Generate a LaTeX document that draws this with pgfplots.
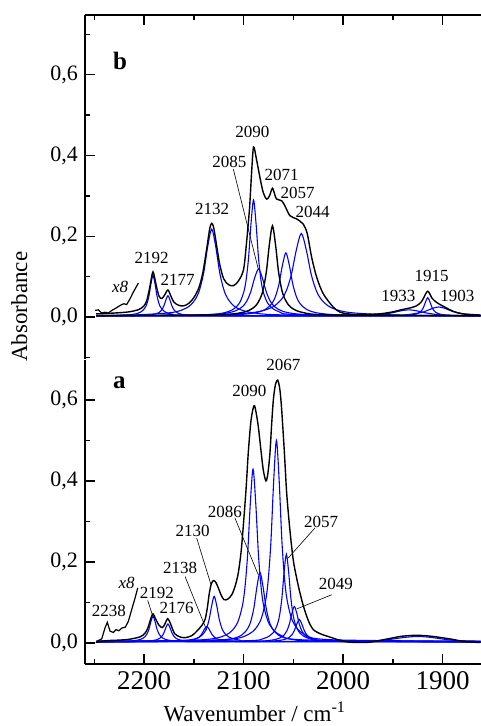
\documentclass[border=0pt]{standalone}
\usepackage{pgfplots}
\pgfplotsset{compat=1.18}
\usepackage{fontspec}
\setmainfont{Liberation Serif}

\pgfplotsset{
  spec/.style={
    scale only axis, width=396bp, clip=false,
    x dir=reverse, xmin=1861.5, xmax=2259.3,
    tick align=inside,
    major tick length=10bp, minor tick length=5bp,
    tick style={black, line width=1.4bp},
    axis line style={line width=1.8bp},
    xtick={1900,2000,2100,2200}, minor xtick={1950,2050,2150,2250},
    ytick={0,0.2,0.4,0.6},
    yticklabel style={font=\fontsize{22bp}{26bp}\selectfont, xshift=-3.5bp,
      /pgf/number format/.cd, fixed, fixed zerofill, precision=1, use comma, assume math mode=true},
    xticklabel style={font=\fontsize{27bp}{30bp}\selectfont, yshift=-4.5bp,
      /pgf/number format/.cd, fixed, 1000 sep={}, assume math mode=true},
  },
  bc/.style={blue, line width=1.1bp, smooth},
  kc/.style={black, line width=1.4bp, smooth},
}
\tikzset{
  lab/.style={font=\fontsize{17bp}{20bp}\selectfont, inner sep=0},
  lead/.style={black, line width=0.6bp},
}

\begin{document}
\begin{tikzpicture}
\path[use as bounding box] (0,0) rectangle (481bp,726bp);

% panel a (bottom)
\begin{axis}[spec, at={(85bp,62bp)}, anchor=south west, height=304.5bp,
  ymin=-0.052, ymax=0.7, minor ytick={0.1,0.3,0.5},
  axis x line*=bottom, axis y line*=left]
\addplot[bc] coordinates {(2248,0.003)(2231,0.0036)(2211,0.0054)(2203,0.0093)(2199,0.0156)(2197,0.0224)(2195,0.0345)(2193,0.0534)(2191,0.066)(2189,0.0534)(2187,0.0345)(2185,0.0224)(2183,0.0156)(2179,0.0093)(2171,0.0054)(2151,0.0036)(1862,0.003)};
\addplot[bc] coordinates {(2248,0.003)(2216,0.0034)(2196,0.0047)(2188,0.0074)(2184,0.0118)(2182,0.0165)(2180,0.025)(2178,0.0382)(2176,0.047)(2174,0.0382)(2172,0.025)(2170,0.0165)(2168,0.0118)(2164,0.0074)(2156,0.0047)(2136,0.0034)(1862,0.003)};
\addplot[bc] coordinates {(2248,0.003)(2187,0.0034)(2162,0.0045)(2152,0.0068)(2147,0.0106)(2144.5,0.0147)(2142,0.022)(2139.5,0.0334)(2137,0.041)(2134.5,0.0334)(2132,0.022)(2129.5,0.0147)(2127,0.0106)(2122,0.0068)(2112,0.0045)(2087,0.0034)(1862,0.003)};
\addplot[bc] coordinates {(2248,0.0035)(2179.5,0.0041)(2154.5,0.0073)(2144.5,0.0142)(2139.5,0.0254)(2137,0.0375)(2134.5,0.059)(2132,0.0926)(2129.5,0.115)(2127,0.0926)(2124.5,0.059)(2122,0.0375)(2119.5,0.0254)(2114.5,0.0142)(2104.5,0.0073)(2079.5,0.0041)(1862,0.0035)};
\addplot[bc] coordinates {(2248,0.004)(2145.5,0.0072)(2118,0.0194)(2107,0.0456)(2101.5,0.0882)(2098.75,0.1341)(2096,0.216)(2093.25,0.3438)(2090.5,0.429)(2087.75,0.3438)(2085,0.216)(2082.25,0.1341)(2079.5,0.0882)(2074,0.0456)(2063,0.0194)(2035.5,0.0072)(1862,0.004)};
\addplot[bc] coordinates {(2248,0.0035)(2143.5,0.0047)(2113.5,0.0096)(2101.5,0.0201)(2095.5,0.0372)(2092.5,0.0556)(2089.5,0.0885)(2086.5,0.1398)(2083.5,0.174)(2080.5,0.1398)(2077.5,0.0885)(2074.5,0.0556)(2071.5,0.0372)(2065.5,0.0201)(2053.5,0.0096)(2023.5,0.0047)(1862,0.0035)};
\addplot[bc] coordinates {(2248,0.004)(2122,0.0079)(2094.5,0.0221)(2083.5,0.0527)(2078,0.1024)(2075.25,0.1559)(2072.5,0.2515)(2069.75,0.4006)(2067,0.500)(2064.25,0.4006)(2061.5,0.2515)(2058.75,0.1559)(2056,0.1024)(2050.5,0.0527)(2039.5,0.0221)(2012,0.0079)(1862,0.004)};
\addplot[bc] coordinates {(2248,0.0035)(2102,0.0051)(2079.5,0.0113)(2070.5,0.0246)(2066,0.0462)(2063.75,0.0695)(2061.5,0.111)(2059.25,0.1758)(2057,0.219)(2054.75,0.1758)(2052.5,0.111)(2050.25,0.0695)(2048,0.0462)(2043.5,0.0246)(2034.5,0.0113)(2012,0.0051)(1862,0.0035)};
\addplot[bc] coordinates {(2248,0.003)(2099,0.0039)(2074,0.0063)(2064,0.0117)(2059,0.0204)(2056.5,0.0298)(2054,0.0465)(2051.5,0.0726)(2049,0.090)(2046.5,0.0726)(2044,0.0465)(2041.5,0.0298)(2039,0.0204)(2034,0.0117)(2024,0.0063)(1999,0.0039)(1862,0.003)};
\addplot[bc] coordinates {(2248,0.003)(2094,0.0035)(2069,0.0051)(2059,0.0085)(2054,0.014)(2051.5,0.0199)(2049,0.0305)(2046.5,0.047)(2044,0.058)(2041.5,0.047)(2039,0.0305)(2036.5,0.0199)(2034,0.014)(2029,0.0085)(2019,0.0051)(1994,0.0035)(1862,0.003)};
\addplot[bc] coordinates {(2248,0.003)(1990,0.0035)(1970,0.005)(1955,0.008)(1945,0.0115)(1935,0.0145)(1925,0.016)(1915,0.0145)(1905,0.0115)(1895,0.008)(1880,0.005)(1862,0.0038)};
% envelope
\addplot[kc] coordinates {(2248.5,0.001)(2244,0.004)(2235,0.006)(2225,0.007)(2215,0.009)(2204,0.015)(2199,0.024)(2196,0.038)(2193.5,0.058)(2191,0.072)(2188.5,0.060)(2185,0.044)(2181.6,0.038)(2179,0.047)(2176.2,0.060)(2173.5,0.048)(2171,0.032)(2168.9,0.022)(2164,0.015)(2158.8,0.013)(2152,0.018)(2147,0.029)(2142,0.043)(2138.7,0.058)(2136.5,0.085)(2134.4,0.123)(2132.5,0.145)(2130.4,0.154)(2128,0.150)(2125.4,0.136)(2122.5,0.118)(2119.7,0.107)(2116,0.108)(2111.9,0.119)(2108.5,0.140)(2105.3,0.173)(2102.5,0.225)(2100.3,0.288)(2097.5,0.380)(2095.3,0.469)(2092.5,0.550)(2089.5,0.586)(2087.5,0.570)(2085.2,0.534)(2082.5,0.475)(2080.2,0.427)(2077.5,0.400)(2075.5,0.420)(2073.5,0.469)(2071.8,0.540)(2070.1,0.600)(2068,0.638)(2065.7,0.649)(2063.5,0.625)(2061.7,0.575)(2059,0.470)(2056.7,0.370)(2053.5,0.280)(2050.1,0.205)(2046.5,0.158)(2043.3,0.123)(2040,0.092)(2036.6,0.066)(2033.3,0.046)(2030,0.033)(2026.5,0.027)(2023.2,0.023)(2019,0.019)(2015,0.016)(2009,0.011)(2003,0.0064)(1997,0.003)(1990,0.0015)(1976,0.0012)(1968,0.004)(1959.6,0.008)(1951,0.012)(1942.9,0.016)(1934,0.018)(1926,0.019)(1918,0.018)(1909.5,0.016)(1901,0.013)(1892.7,0.010)(1884,0.006)(1876,0.003)(1862,0.001)};
% x8
\addplot[black, line width=1.2bp] coordinates {(2247.5,0.004)(2242.5,0.010)(2239.2,0.037)(2236.9,0.051)(2234.1,0.029)(2230.8,0.026)(2228.1,0.033)(2225.4,0.030)(2222.1,0.037)(2218.8,0.039)(2215.8,0.053)(2212.4,0.082)(2209,0.111)(2206.3,0.136)};
\node[font=\fontsize{25bp}{28bp}\selectfont\bfseries, inner sep=0] at (axis cs:2224.8,0.643) {a};
\node[lab] at (axis cs:2060.1,0.686) {2067};
\node[lab] at (axis cs:2094.2,0.623) {2090};
\node[lab] at (axis cs:2118.7,0.3245) {2086};
\node[lab] at (axis cs:2151.1,0.277) {2130};
\node[lab] at (axis cs:2163.8,0.185) {2138};
\node[lab] at (axis cs:2022.2,0.300) {2057};
\node[lab] at (axis cs:2007.2,0.1455) {2049};
\node[lab] at (axis cs:2235.2,0.078) {2238};
\node[lab, font=\fontsize{17bp}{20bp}\selectfont\itshape] at (axis cs:2217.4,0.149) {x8};
\node[lab] at (axis cs:2187.2,0.123) {2192};
\node[lab] at (axis cs:2167.2,0.086) {2176};
\draw[lead] (axis cs:2108.6,0.308) -- (axis cs:2085.2,0.168);
\draw[lead] (axis cs:2147.1,0.259) -- (axis cs:2133,0.146);
\draw[lead] (axis cs:2158.8,0.164) -- (axis cs:2137,0.031);
\draw[lead] (axis cs:2028.3,0.284) -- (axis cs:2055.1,0.21);
\draw[lead] (axis cs:2011.5,0.119) -- (axis cs:2046.6,0.084);
\draw[lead] (axis cs:2196.3,0.105) -- (axis cs:2191.3,0.067);
\end{axis}

% panel b (top)
\begin{axis}[spec, at={(85bp,366.5bp)}, anchor=south west, height=344.5bp,
  ymin=-0.105, ymax=0.748, minor ytick={-0.1,0.1,0.3,0.5,0.7},
  xticklabels={}, axis x line*=top, axis y line*=left]
\addplot[bc] coordinates {(2248,0.003)(2231,0.004)(2211,0.0069)(2203,0.013)(2199,0.023)(2197,0.0338)(2195,0.053)(2193,0.083)(2191,0.103)(2189,0.083)(2187,0.053)(2185,0.0338)(2183,0.023)(2179,0.013)(2171,0.0069)(2151,0.004)(1862,0.003)};
\addplot[bc] coordinates {(2248,0.003)(2216,0.0035)(2196,0.0049)(2188,0.008)(2184,0.013)(2182,0.0184)(2180,0.028)(2178,0.043)(2176,0.053)(2174,0.043)(2172,0.028)(2170,0.0184)(2168,0.013)(2164,0.008)(2156,0.0049)(2136,0.0035)(1862,0.003)};
\addplot[bc] coordinates {(2248,0.004)(2212,0.0051)(2172,0.0113)(2156,0.0245)(2148,0.046)(2144,0.0692)(2140,0.1105)(2136,0.175)(2132,0.218)(2128,0.175)(2124,0.1105)(2120,0.0692)(2116,0.046)(2108,0.0245)(2092,0.0113)(2052,0.0051)(1862,0.0035)};
\addplot[bc] coordinates {(2248,0.0035)(2140,0.0058)(2115,0.014)(2105,0.0317)(2100,0.0604)(2097.5,0.0913)(2095,0.1465)(2092.5,0.2326)(2090,0.290)(2087.5,0.2326)(2085,0.1465)(2082.5,0.0913)(2080,0.0604)(2075,0.0317)(2065,0.014)(2040,0.0058)(1862,0.0035)};
\addplot[bc] coordinates {(2248,0.0035)(2165,0.0041)(2125,0.0075)(2109,0.0146)(2101,0.0262)(2097,0.0387)(2093,0.061)(2089,0.0958)(2085,0.119)(2081,0.0958)(2077,0.061)(2073,0.0387)(2069,0.0262)(2061,0.0146)(2045,0.0075)(2005,0.0041)(1862,0.0035)};
\addplot[bc] coordinates {(2248,0.0035)(2127.5,0.0045)(2092.5,0.009)(2078.5,0.0186)(2071.5,0.0342)(2068,0.051)(2064.5,0.081)(2061,0.1278)(2057.5,0.159)(2054,0.1278)(2050.5,0.081)(2047,0.051)(2043.5,0.0342)(2036.5,0.0186)(2022.5,0.009)(1987.5,0.0045)(1862,0.0035)};
\addplot[bc] coordinates {(2248,0.004)(2142,0.005)(2092,0.0109)(2072,0.0234)(2062,0.0438)(2057,0.0658)(2052,0.105)(2047,0.1662)(2042,0.207)(2037,0.1662)(2032,0.105)(2027,0.0658)(2022,0.0438)(2012,0.0234)(1992,0.0109)(1942,0.005)(1862,0.0035)};
\addplot[bc] coordinates {(2248,0.003)(1990,0.0035)(1970,0.005)(1960,0.007)(1950,0.011)(1942,0.0155)(1934,0.018)(1926,0.0155)(1918,0.011)(1908,0.007)(1898,0.005)(1880,0.0035)(1862,0.003)};
\addplot[bc] coordinates {(2248,0.003)(1955,0.0034)(1935,0.0047)(1927,0.0075)(1923,0.012)(1921,0.0168)(1919,0.0255)(1917,0.039)(1915,0.048)(1913,0.039)(1911,0.0255)(1909,0.0168)(1907,0.012)(1903,0.0075)(1895,0.0047)(1875,0.0034)(1862,0.003)};
\addplot[bc] coordinates {(2248,0.003)(1960,0.0035)(1940,0.005)(1930,0.0078)(1920,0.0124)(1914,0.0178)(1909,0.0226)(1904,0.025)(1899,0.0226)(1894,0.0178)(1888,0.0124)(1878,0.0078)(1862,0.0055)};
% black component 2071
\addplot[kc] coordinates {(2248,0.0035)(2131,0.0052)(2101,0.0116)(2089,0.0253)(2083,0.0476)(2080,0.0716)(2077,0.1145)(2074,0.1814)(2071,0.226)(2068,0.1814)(2065,0.1145)(2062,0.0716)(2059,0.0476)(2053,0.0253)(2041,0.0116)(2011,0.0052)(1862,0.0035)};
% envelope
\addplot[kc] coordinates {(2248,0.008)(2230,0.010)(2215,0.013)(2205,0.019)(2200,0.028)(2197,0.043)(2194,0.077)(2191,0.112)(2188,0.081)(2185,0.052)(2182,0.046)(2179,0.056)(2176,0.067)(2173,0.052)(2170,0.037)(2165,0.029)(2160,0.028)(2155,0.034)(2150,0.048)(2145,0.072)(2141,0.109)(2137,0.170)(2134,0.219)(2132,0.232)(2130,0.221)(2127,0.176)(2124,0.131)(2120,0.095)(2115,0.080)(2110,0.078)(2105,0.090)(2100,0.118)(2097,0.185)(2094,0.27)(2092,0.355)(2090,0.421)(2087,0.39)(2083.5,0.345)(2080.2,0.308)(2076.8,0.292)(2074,0.300)(2071,0.319)(2068.5,0.302)(2066.7,0.292)(2061.7,0.288)(2058.4,0.275)(2053.4,0.251)(2046.6,0.243)(2040,0.230)(2036,0.206)(2031.6,0.148)(2026.6,0.099)(2020,0.058)(2010,0.025)(2003,0.012)(1995,0.008)(1985,0.006)(1970,0.007)(1960,0.009)(1950,0.013)(1942,0.018)(1934,0.022)(1927,0.027)(1922,0.036)(1919,0.048)(1917,0.058)(1915,0.064)(1913,0.058)(1911,0.048)(1908,0.040)(1904,0.033)(1898,0.025)(1890,0.015)(1880,0.008)(1862,0.004)};
% x8
\addplot[black, line width=1.2bp] coordinates {(2249.2,0.0165)(2245.9,0.018)(2242.5,0.010)(2239.2,0.012)(2235.9,0.010)(2232.4,0.0165)(2229.1,0.021)(2225.8,0.026)(2222.4,0.031)(2220.1,0.033)(2217.4,0.031)(2214.1,0.045)(2210.7,0.062)(2208,0.074)(2205.7,0.084)};
\node[font=\fontsize{25bp}{28bp}\selectfont\bfseries, inner sep=0] at (axis cs:2224.1,0.635) {b};
\node[lab, font=\fontsize{17bp}{20bp}\selectfont\itshape] at (axis cs:2224.1,0.074) {x8};
\node[lab] at (axis cs:2192.3,0.1465) {2192};
\node[lab] at (axis cs:2166.2,0.092) {2177};
\node[lab] at (axis cs:2131.7,0.267) {2132};
\node[lab] at (axis cs:2091.2,0.459) {2090};
\node[lab] at (axis cs:2114.3,0.384) {2085};
\node[lab] at (axis cs:2061.7,0.352) {2071};
\node[lab] at (axis cs:2045.6,0.308) {2057};
\node[lab] at (axis cs:2030.6,0.261) {2044};
\node[lab] at (axis cs:1944.6,0.0535) {1933};
\node[lab] at (axis cs:1911.1,0.103) {1915};
\node[lab] at (axis cs:1885.3,0.0535) {1903};
\draw[lead] (axis cs:2110.3,0.366) -- (axis cs:2085.2,0.119);
\end{axis}

\node[rotate=90, inner sep=0, font=\fontsize{23bp}{26bp}\selectfont] at (19.2bp,419.3bp) {Absorbance};
\node[anchor=base, inner sep=0, font=\fontsize{23bp}{26bp}\selectfont] at (254.5bp,4.3bp) {Wavenumber / cm\textsuperscript{-1}};
\end{tikzpicture}
\end{document}
